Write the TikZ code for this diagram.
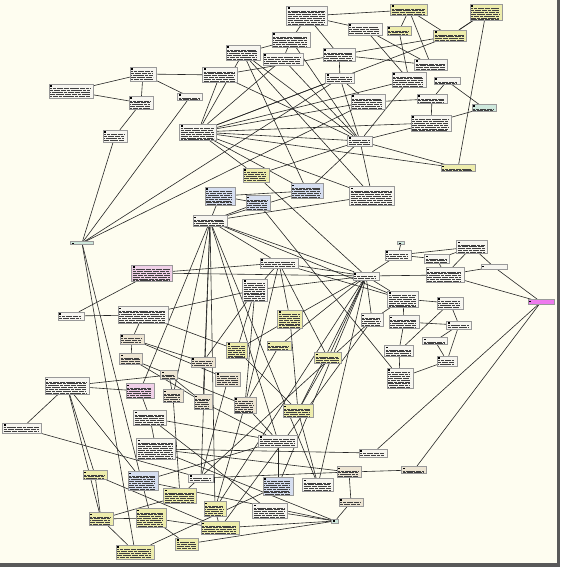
\documentclass[tikz,border=0pt]{standalone}
\usetikzlibrary{backgrounds}
\definecolor{paper}{RGB}{254,253,240}
\definecolor{noteW}{RGB}{247,246,240}
\definecolor{noteY}{RGB}{238,237,172}
\definecolor{noteB}{RGB}{214,222,240}
\definecolor{noteT}{RGB}{237,229,211}
\definecolor{noteP}{RGB}{240,208,232}
\definecolor{noteG}{RGB}{206,232,220}
\definecolor{noteM}{RGB}{238,122,238}
\begin{document}
\begin{tikzpicture}[x=1pt,y=-1pt,
  note/.style={draw=black!40,line width=0.4pt,inner sep=0pt,fill=noteW,
    path picture={
      \fill[black] ([shift={(1pt,-1pt)}]path picture bounding box.north west) rectangle ++(2pt,-1.6pt);
      \foreach \k in {1,...,12}
        \draw[black!75,line width=0.45pt,dash pattern=on 5pt off 0.8pt on 3pt off 0.8pt on 6pt off 0.8pt,dash phase={\k*2.7pt}]
          ([shift={(1pt,-2.4pt-\k*1.9pt)}]path picture bounding box.north west) --
          ([shift={(-3pt,-2.4pt-\k*1.9pt)}]path picture bounding box.north east);
    }},
  sz/.style 2 args={minimum width=#1pt,minimum height=#2pt},
  link/.style={black!85,line width=0.6pt}]
  \useasboundingbox (0,0) rectangle (560,567);

  \node[note,sz={44}{14}] (t1) at (71,91) {};
  \node[note,sz={26}{14}] (t2) at (143,74) {};
  \node[note,sz={24}{13}] (t3) at (141,103) {};
  \node[note,sz={24}{12}] (t4) at (115,136) {};
  \node[note,sz={25}{7}] (t5) at (190,97) {};
  \node[note,sz={35}{15}] (t6) at (220,75) {};
  \node[note,sz={34}{15}] (t7) at (243,53) {};
  \node[note,sz={38}{15}] (t8) at (291,40) {};
  \node[note,sz={41}{19}] (t9) at (307,16) {};
  \node[note,sz={37}{11},fill=noteY] (t10) at (409,10) {};
  \node[note,sz={32}{16},fill=noteY] (t11) at (486,12) {};
  \node[note,sz={34}{12}] (t12) at (365,29) {};
  \node[note,sz={24}{9},fill=noteY] (t13) at (399,31) {};
  \node[note,sz={33}{11},fill=noteY] (t14) at (450,36) {};
  \node[note,sz={40}{12}] (t15) at (283,59) {};
  \node[note,sz={32}{13}] (t16) at (339,55) {};
  \node[note,sz={29}{10}] (t17) at (340,78) {};
  \node[note,sz={34}{15}] (t18) at (409,80) {};
  \node[note,sz={33}{11}] (t19) at (431,65) {};
  \node[note,sz={26}{7}] (t20) at (447,81) {};
  \node[note,sz={34}{15}] (t21) at (368,102) {};
  \node[note,sz={30}{9}] (t22) at (432,99) {};
  \node[note,sz={24}{7},fill=noteG] (t23) at (484,108) {};
  \node[note,sz={40}{16}] (t24) at (431,123) {};
  \node[note,sz={25}{10}] (t25) at (360,141) {};
  \node[note,sz={34}{7},fill=noteY] (t26) at (458,168) {};
  \node[note,sz={37}{16}] (t27) at (198,132) {};
  \node[note,sz={26}{14},fill=noteY] (t28) at (256,175) {};
  \node[note,sz={32}{15},fill=noteB] (t29) at (307,191) {};
  \node[note,sz={30}{18},fill=noteB] (t30) at (220,196) {};
  \node[note,sz={24}{15},fill=noteB] (t31) at (258,203) {};
  \node[note,sz={45}{19}] (t32) at (372,196) {};

  \node[note,sz={34}{11}] (m1) at (210,221) {};
  \node[note,sz={23}{3},fill=noteG] (m2) at (82,243) {};
  \node[note,sz={41}{16},fill=noteP] (m3) at (152,273) {};
  \node[note,sz={38}{10}] (m4) at (279,263) {};
  \node[note,sz={25}{22}] (m5) at (255,290) {};
  \node[note,sz={26}{8}] (m6) at (71,316) {};
  \node[note,sz={50}{17}] (m7) at (143,315) {};
  \node[note,sz={24}{10},fill=noteT] (m8) at (132,339) {};
  \node[note,sz={23}{11},fill=noteT] (m9) at (131,359) {};
  \node[note,sz={24}{10},fill=noteT] (m10) at (203,362) {};
  \node[note,sz={21}{16},fill=noteY] (m11) at (237,350) {};
  \node[note,sz={25}{18},fill=noteY] (m12) at (290,319) {};
  \node[note,sz={24}{9},fill=noteY] (m13) at (279,346) {};
  \node[note,sz={27}{11},fill=noteY] (m14) at (328,358) {};
  \node[note,sz={17}{9},fill=noteT] (m15) at (169,375) {};
  \node[note,sz={25}{14},fill=noteT] (m16) at (228,379) {};

  \node[note,sz={7}{3},fill=noteG] (r1) at (401,243) {};
  \node[note,sz={26}{10}] (r2) at (398,255) {};
  \node[note,sz={25}{9}] (r3) at (437,259) {};
  \node[note,sz={31}{13}] (r4) at (472,247) {};
  \node[note,sz={26}{5}] (r5) at (494,267) {};
  \node[note,sz={38}{15}] (r6) at (445,275) {};
  \node[note,sz={26}{8}] (r7) at (366,276) {};
  \node[note,sz={26}{5},fill=noteM] (r8) at (541,302) {};
  \node[note,sz={31}{16}] (r9) at (403,299) {};
  \node[note,sz={26}{12}] (r10) at (450,303) {};
  \node[note,sz={22}{13}] (r11) at (372,320) {};
  \node[note,sz={30}{13}] (r12) at (404,322) {};
  \node[note,sz={25}{8}] (r13) at (459,325) {};
  \node[note,sz={25}{7}] (r14) at (435,341) {};
  \node[note,sz={29}{11}] (r15) at (399,351) {};
  \node[note,sz={20}{10}] (r16) at (447,361) {};
  \node[note,sz={26}{20}] (r17) at (400,378) {};

  \node[note,sz={44}{17}] (b1) at (67,386) {};
  \node[note,sz={28}{15},fill=noteP] (b2) at (140,391) {};
  \node[note,sz={20}{13},fill=noteT] (b3) at (173,396) {};
  \node[note,sz={18}{15},fill=noteT] (b4) at (203,402) {};
  \node[note,sz={22}{16},fill=noteT] (b5) at (245,405) {};
  \node[note,sz={39}{10}] (b6) at (22,428) {};
  \node[note,sz={33}{15}] (b7) at (150,418) {};
  \node[note,sz={39}{21}] (b8) at (156,449) {};
  \node[note,sz={30}{13},fill=noteY] (b9) at (298,411) {};
  \node[note,sz={39}{12}] (b10) at (278,441) {};
  \node[note,sz={28}{8}] (b11) at (373,453) {};
  \node[note,sz={24}{11},fill=noteT] (b12) at (349,472) {};
  \node[note,sz={25}{7},fill=noteT] (b13) at (414,470) {};
  \node[note,sz={31}{13}] (b14) at (318,485) {};
  \node[note,sz={24}{8},fill=noteT] (b15) at (351,502) {};
  \node[note,sz={7}{4},fill=noteG] (b16) at (335,521) {};
  \node[note,sz={24}{9},fill=noteY] (b17) at (95,475) {};
  \node[note,sz={30}{19},fill=noteB] (b18) at (143,481) {};
  \node[note,sz={25}{8}] (b19) at (201,478) {};
  \node[note,sz={33}{15},fill=noteY] (b20) at (180,496) {};
  \node[note,sz={30}{18},fill=noteB] (b21) at (278,486) {};
  \node[note,sz={22}{15},fill=noteY] (b22) at (215,509) {};
  \node[note,sz={35}{15}] (b23) at (270,511) {};
  \node[note,sz={24}{13},fill=noteY] (b24) at (101,519) {};
  \node[note,sz={30}{19},fill=noteY] (b25) at (151,518) {};
  \node[note,sz={38}{13},fill=noteY] (b26) at (220,528) {};
  \node[note,sz={23}{12},fill=noteY] (b27) at (187,544) {};
  \node[note,sz={38}{14},fill=noteY] (b28) at (135,552) {};

  \begin{scope}[on background layer]
    \fill[paper] (0,0) rectangle (560,567);
    \foreach \a/\b in {t1/t2,t1/t3,t2/t3,t2/t5,t2/t6,t3/t4,t4/m2,t5/m2,m2/t17,m2/t21,m2/b25,m2/b28,
        t6/t27,t7/t27,t7/t8,t6/t25,t6/t16,t7/t25,t7/t29,t7/t32,
        t27/t28,t27/t17,t27/t18,t27/t24,t27/t26,t27/t25,t27/t21,t27/t14,t27/t29,t27/t32,t27/t15,
        t9/t10,t9/t12,t9/t8,t9/t16,t10/t13,t10/t14,t10/t19,t11/t14,t11/t26,t12/t18,t12/t19,t13/t18,
        t14/t16,t16/t17,t16/t19,t17/t21,t17/t25,t18/t25,t20/t22,t20/t23,t22/t24,t23/t24,t21/t22,
        t24/t25,t25/t26,t25/t29,t25/t32,t8/t15,t15/t25,t8/t25,t28/t25,t28/r7,
        t29/t30,t30/t31,t30/m1,m1/t31,m1/t29,m1/t32,t31/r17}
      \draw[link] (\a) -- (\b);
    \draw[link,transform canvas={shift={(1.2pt,1pt)}}] (t11) -- (t14);
    \foreach \a/\b in {m1/r7,m1/r9,m1/m4,m1/b2,m1/b4,m1/b3,m1/b19,m1/b22,m1/b10,m1/b14,
        m3/m4,m3/r7,m3/m6,m6/m7,m7/m5,m7/m8,m7/m11,m8/m9,m8/m10,m8/m16,m9/b4,m9/b5,m10/m5,
        m4/r7,m4/m5,m4/m12,m4/m14,m4/b5,m4/r9,m5/r7,m5/m11,m5/b5,
        m11/m12,m11/b9,m12/b9,m12/r7,m13/r7,m13/b5,m14/r7,m14/b9,
        m15/b1,m15/b3,m15/b4,m16/b19,
        r7/r11,r7/r9,r7/b9,r7/b21,r7/b14,r7/b22,r7/r2,r7/r6,
        r1/r2,r2/r3,r2/r4,r3/r4,r3/r6,r4/r6,r4/r5,r5/r8,r6/r5,r6/r8,
        r9/r10,r9/r12,r9/r11,r10/r13,r10/r15,r12/r13,r12/r15,r13/r14,r13/r16,r14/r16,r15/r17,r16/r17,
        b11/r8,b13/r8,r11/b20,r11/b26}
      \draw[link] (\a) -- (\b);
    \foreach \a/\b in {b1/b6,b1/b2,b1/b17,b1/b24,b1/b18,b2/b7,b6/b19,b7/b8,b7/b10,b7/b23,
        b8/b11,b8/b12,b8/b16,b18/b10,b18/b16,b19/b12,b20/b3,b20/b24,b21/b10,b22/b5,b22/b26,
        b24/b25,b24/b28,b25/b26,b25/b27,b27/b16,b26/b16,b28/b21,b17/b24,b17/b26,b23/b16,
        b4/b10,b5/b10,b9/b14,b12/b13,b12/b15,b15/b16}
      \draw[link] (\a) -- (\b);
  \end{scope}

  \fill[black!65] (557,0) rectangle (560,567);
  \fill[black!65] (0,563) rectangle (560,567);
\end{tikzpicture}
\end{document}
